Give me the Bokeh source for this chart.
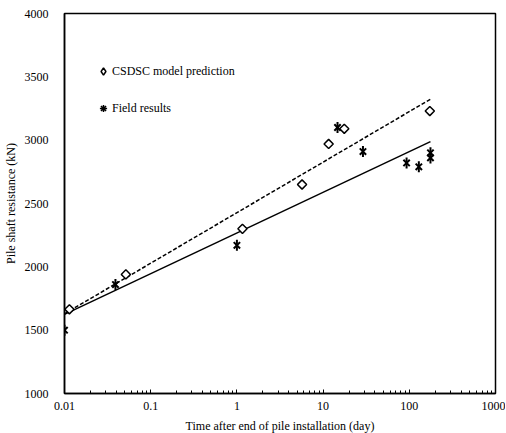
import numpy as np
from bokeh.plotting import figure
from bokeh.models import FixedTicker, Legend, LegendItem, Range1d
from bokeh.embed import file_html
from bokeh.resources import INLINE

# CSDSC model prediction
model_t = [0.0114, 0.0515, 1.16, 5.7, 11.6, 17.6, 173]
model_q = [1665, 1940, 2300, 2650, 2970, 3090, 3230]
# Field results
field_t = [0.01, 0.039, 1.0, 14.7, 29, 93, 129, 176, 176]
field_q = [1500, 1860, 2170, 3100, 2910, 2820, 2790, 2900, 2860]

x_ticks = [0.01, 0.1, 1, 10, 100, 1000]
x_tick_labels = ["0.01", "0.1", "1", "10", "100", "1000"]
y_ticks = [1000, 1500, 2000, 2500, 3000, 3500, 4000]

FONT = "Liberation Serif"

p = figure(x_axis_type="log", x_range=Range1d(0.01, 1000), y_range=Range1d(1000, 4000),
           frame_width=431, frame_height=380,
           min_border_left=57, min_border_top=13, min_border_right=10, min_border_bottom=38,
           output_backend="svg", toolbar_location=None)
p.grid.visible = False
p.outline_line_color = "black"
p.outline_line_width = 1.5
p.background_fill_color = "white"
p.border_fill_color = "white"

# logarithmic trend lines (least squares on log10 t)
t_span = np.array([min(min(model_t), min(field_t)), max(max(model_t), max(field_t))])
mc = np.polyfit(np.log10(model_t), model_q, 1)
fc = np.polyfit(np.log10(field_t), field_q, 1)
p.line(t_span, np.polyval(mc, np.log10(t_span)), line_color="black", line_width=1.5, line_dash="4 2")
p.line(t_span, np.polyval(fc, np.log10(t_span)), line_color="black", line_width=1.5)

p.scatter(model_t, model_q, marker="square", angle=np.pi / 4, size=6.5,
          fill_color="white", line_color="black", line_width=1.5)
p.scatter(field_t, field_q, marker="x", size=9, line_color="black", line_width=2)
p.scatter(field_t, field_q, marker="dash", angle=np.pi / 2, size=11, line_color="black", line_width=2)

# hidden renderers used only for the legend keys
lg_model = p.scatter(model_t, model_q, marker="diamond", fill_color="white",
                     line_color="black", line_width=1.5, visible=False)
lg_field = p.scatter(field_t, field_q, marker="asterisk", line_color="black",
                     line_width=1.5, visible=False)

legend = Legend(items=[LegendItem(label="CSDSC model prediction", renderers=[lg_model], index=0),
                       LegendItem(label="Field results", renderers=[lg_field], index=0)],
                location=(30, 275), margin=0, padding=0, spacing=17,
                glyph_width=18, glyph_height=20, label_height=20, label_standoff=0,
                border_line_color=None, background_fill_alpha=0,
                label_text_font=FONT, label_text_font_size="12px", label_text_color="black")
p.add_layout(legend)

xa = p.xaxis[0]
xa.ticker = FixedTicker(ticks=x_ticks,
                        minor_ticks=[m * 10.0 ** e for e in range(-2, 3) for m in range(2, 10)])
xa.major_label_overrides = {t: lab for t, lab in zip(x_ticks, x_tick_labels)}
xa.major_tick_in = 4
xa.major_tick_out = 0
xa.minor_tick_in = 3
xa.minor_tick_out = 0
xa.major_label_standoff = 8
xa.axis_label = "Time after end of pile installation (day)"
xa.axis_label_standoff = 6

ya = p.yaxis[0]
ya.ticker = FixedTicker(ticks=y_ticks, minor_ticks=[])
ya.major_label_standoff = 10
ya.axis_label = "Pile shaft resistance (kN)"
ya.axis_label_standoff = 4

for ax in (xa, ya):
    ax.axis_line_color = "black"
    ax.axis_line_width = 1.5
    ax.major_label_text_font = FONT
    ax.major_label_text_font_size = "12px"
    ax.major_label_text_color = "black"
    ax.axis_label_text_font = FONT
    ax.axis_label_text_font_size = "12px"
    ax.axis_label_text_font_style = "normal"
    ax.axis_label_text_color = "black"
ya.major_tick_line_color = None
ya.minor_tick_line_color = None

open("out.html", "w").write(file_html(p, INLINE))
